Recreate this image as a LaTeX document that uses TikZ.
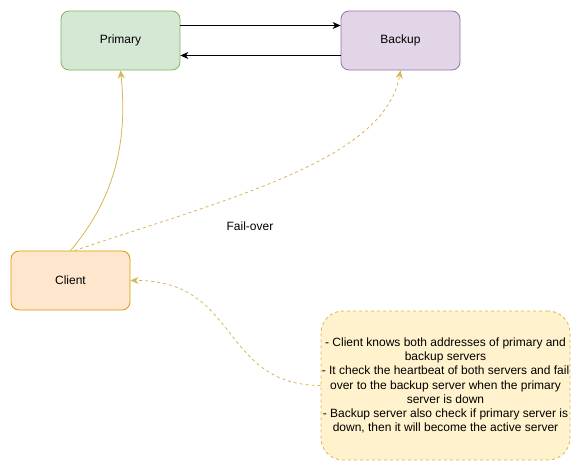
\documentclass[tikz,border=0pt]{standalone}
\usepackage{fontspec}
\setmainfont{Liberation Sans}
\usetikzlibrary{arrows.meta}
\definecolor{greenfill}{HTML}{D5E8D4}
\definecolor{greenline}{HTML}{82B366}
\definecolor{purplefill}{HTML}{E1D5E7}
\definecolor{purpleline}{HTML}{9673A6}
\definecolor{orangefill}{HTML}{FFE6CC}
\definecolor{orangeline}{HTML}{D79B00}
\definecolor{notefill}{HTML}{FFF2CC}
\definecolor{noteline}{HTML}{D6B656}
\begin{document}
\begin{tikzpicture}[x=1pt,y=-1pt,
  box/.style={draw, rounded corners=8pt, minimum width=119pt, minimum height=59pt,
    inner sep=0pt, font=\fontsize{12}{14}\selectfont, line width=0.8pt},
  note/.style={draw=noteline, fill=notefill, dashed, rounded corners=22pt,
    minimum width=249pt, minimum height=149pt, inner sep=0pt, align=center,
    font=\fontsize{12}{14.2}\selectfont, line width=0.8pt},
  link/.style={-{Stealth[length=8pt,width=7pt,inset=2.5pt]}, line width=0.8pt},
  ylink/.style={link, draw=noteline},
]
\useasboundingbox (0,0) rectangle (582,471);

\node[box, draw=greenline, fill=greenfill] (primary) at (120.5,40.5) {Primary};
\node[box, draw=purpleline, fill=purplefill] (backup) at (400.5,40.5) {Backup};
\node[box, draw=orangeline, fill=orangefill] (client) at (70.5,280.5) {Client};
\node[note] (info) at (445.5,385.5) {- Client knows both addresses of primary and\\
backup servers\\
- It check the heartbeat of both servers and fail\\
over to the backup server when the primary\\
server is down\\
- Backup server also check if primary server is\\
down, then it will become the active server};

\node[font=\fontsize{12}{14}\selectfont] (failover) at (250,226) {Fail-over};

% replication links between the two servers
\draw[link] (primary.east |- 0,25.5) -- (backup.west |- 0,25.5);
\draw[link] (backup.west |- 0,55.5) -- (primary.east |- 0,55.5);

% client connections
\draw[ylink] (client.north) .. controls (103,212) and (130,160) .. (primary.south);
\draw[ylink, dashed] (client.north) ++(4,0) .. controls (230,198) and (385,160) .. (backup.south);
\draw[ylink, dashed] (info.west) .. controls (220,385) and (240,280) .. (client.east);
\end{tikzpicture}
\end{document}
